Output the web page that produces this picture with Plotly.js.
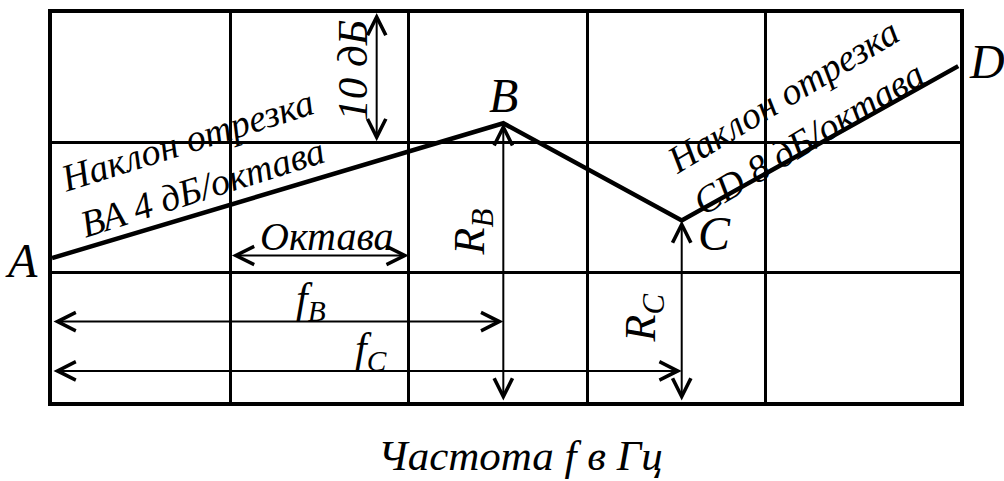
<!DOCTYPE html>
<html>
<head>
<meta charset="utf-8">
<script src="https://cdn.plot.ly/plotly-3.0.1.min.js"></script>
<style>html,body{margin:0;padding:0;background:#fff}#chart{width:1004px;height:481px}</style>
</head>
<body>
<div id="chart"></div>
<script>
// Frequency in octaves from the left edge, level in dB
const pointNames = ['A', 'B', 'C', 'D'];
const octaves = [0, 2.53, 3.53, 5.08];
const levelsDb = [11.1, 21.5, 14.0, 25.9];
const gridOctaves = [1, 2, 3, 4];
const gridDb = [10, 20];
const slopeAB = 4;   // dB/octave
const slopeCD = 8;   // dB/octave

const F = 'Liberation Serif';
const ink = '#000';

function arrow(x0, y0, x1, y1) {
  return {xref: 'x', yref: 'y', axref: 'x', ayref: 'y', x: x1, y: y1, ax: x0, ay: y0,
    text: '', showarrow: true, arrowside: 'end+start', arrowhead: 5, startarrowhead: 5,
    arrowsize: 1.8, startarrowsize: 1.8, arrowwidth: 2, arrowcolor: ink, standoff: 0, startstandoff: 0};
}
function label(text, x, y, size, opts) {
  return Object.assign({xref: 'x', yref: 'y', x: x, y: y, xanchor: 'center', yanchor: 'middle',
    text: '<i>' + text + '</i>', showarrow: false,
    font: {family: F, size: size, color: ink}}, opts || {});
}

const [xA, xB, xC, xD] = octaves;
const [yA, yB, yC, yD] = levelsDb;

const annotations = [
  // dimension arrows
  arrow(1.82, 20, 1.82, 30),
  arrow(1, 11.3, 2, 11.3),
  arrow(xB, 0, xB, yB),
  arrow(xC, 0, xC, yC),
  arrow(0, 6.2, xB, 6.2),
  arrow(0, 2.4, xC, 2.4),
  // texts
  label('10 дБ', 1.68, 25.6, 43, {textangle: -90}),
  label('Октава', 1.54, 12.8, 40),
  label('R<sub>B</sub>', xB, 13.1, 44, {textangle: -90, xshift: -31}),
  label('R<sub>C</sub>', xC, 6.5, 44, {textangle: -90, xshift: -38}),
  label('f<sub>B</sub>', 1.45, 7.8, 42),
  label('f<sub>C</sub>', 1.79, 3.9, 42),
  label('Наклон отрезка<br>ВА ' + slopeAB + ' дБ/октава', 0.80, 18.4, 38, {textangle: -17.5}),
  label('Наклон отрезка<br>CD ' + slopeCD + ' дБ/октава', 4.17, 22.0, 38, {textangle: -31}),
  // point letters
  label(pointNames[0], xA, yA, 48, {xanchor: 'right', xshift: -12, yshift: -2}),
  label(pointNames[1], xB, yB, 48, {yshift: 28}),
  label(pointNames[2], xC, yC, 48, {xanchor: 'left', xshift: 14, yshift: -13}),
  label(pointNames[3], xD, yD, 48, {xanchor: 'left', xshift: 9, yshift: 5}),
  // axis title
  {xref: 'paper', yref: 'paper', x: 0.516, y: -0.138, xanchor: 'center', yanchor: 'middle',
   text: '<i>Частота f в Гц</i>', showarrow: false,
   font: {family: F, size: 43, color: ink}}
];

const data = [{
  type: 'scatter', mode: 'lines', x: octaves, y: levelsDb,
  line: {color: ink, width: 4.5}, hoverinfo: 'skip', cliponaxis: false
}];

const layout = {
  width: 1004, height: 481,
  margin: {l: 52, r: 44, t: 13, b: 79},
  paper_bgcolor: '#fff', plot_bgcolor: '#fff',
  showlegend: false,
  xaxis: {range: [0, 5.09], tickvals: gridOctaves, showticklabels: false, ticks: '',
    showgrid: true, gridcolor: ink, gridwidth: 3, zeroline: false,
    showline: true, mirror: true, linecolor: ink, linewidth: 4, fixedrange: true},
  yaxis: {range: [0, 30], tickvals: gridDb, showticklabels: false, ticks: '',
    showgrid: true, gridcolor: ink, gridwidth: 3, zeroline: false,
    showline: true, mirror: true, linecolor: ink, linewidth: 4, fixedrange: true},
  annotations: annotations
};

Plotly.newPlot('chart', data, layout, {staticPlot: true, displayModeBar: false});
</script>
</body>
</html>
